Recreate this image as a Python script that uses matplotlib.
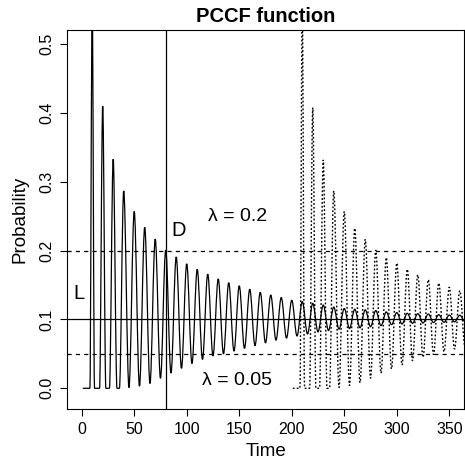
import matplotlib
matplotlib.use("Agg")
import matplotlib.pyplot as plt
from matplotlib.path import Path
from matplotlib.patches import PathPatch

plt.rcParams['font.family'] = ['Liberation Sans', 'DejaVu Sans']
plt.rcParams['lines.scale_dashes'] = False

# ---- data ----
# solid curve (process started at time 0): vertices (time, probability)
solid_t = [1, 7.8, 10, 12.2, 17, 20, 23, 26.4, 30, 33.6, 35.9, 40, 45, 50, 55, 60, 65, 70, 75,
           80, 85, 90, 95, 100, 105, 110, 115, 120, 125, 130, 135, 140, 145, 150, 155, 160,
           165, 170, 175, 180, 185, 190, 195, 200, 205, 210, 215, 220, 225, 230, 235, 240,
           245, 250, 255, 260, 265, 270, 275, 280, 285, 290, 295, 300, 305, 310, 315, 320,
           325, 330, 335, 340, 345, 350, 355, 360, 365, 370]
solid_p = [0.0, 0.0, 0.56, 0.0, 0.0, 0.41, 0.0, 0.0, 0.333, 0.0, 0.0, 0.287, 0.001, 0.257,
           0.003, 0.234, 0.007, 0.217, 0.0145, 0.201, 0.022, 0.191, 0.029, 0.181, 0.036,
           0.173, 0.042, 0.166, 0.047, 0.159, 0.050, 0.1535, 0.054, 0.149, 0.058, 0.144,
           0.062, 0.1395, 0.066, 0.1356, 0.070, 0.132, 0.073, 0.128, 0.076, 0.126, 0.079,
           0.1235, 0.082, 0.121, 0.084, 0.118, 0.086, 0.116, 0.087, 0.115, 0.088, 0.114,
           0.0895, 0.113, 0.091, 0.111, 0.0925, 0.110, 0.0935, 0.109, 0.0945, 0.1085, 0.095,
           0.108, 0.0955, 0.107, 0.096, 0.1065, 0.0965, 0.1062, 0.097, 0.106]

# dotted curve (process restarted at time 200)
dotted_t = [201, 207.8, 210, 212.2, 217, 220, 223, 226.4, 230, 233.6, 235.9, 240, 245, 250,
            255, 260, 265, 270, 275, 280, 285, 290, 295, 300, 305, 310, 315, 320, 325, 330,
            335, 340, 345, 350, 355, 360, 365, 370]
dotted_p = [0.0, 0.0, 0.56, 0.0, 0.0, 0.408, 0.0, 0.0, 0.332, 0.0, 0.0, 0.287, 0.001, 0.257,
            0.004, 0.2325, 0.008, 0.2166, 0.0145, 0.201, 0.022, 0.190, 0.028, 0.182, 0.034,
            0.173, 0.040, 0.165, 0.045, 0.158, 0.049, 0.153, 0.053, 0.147, 0.057, 0.142,
            0.060, 0.138]

mean_level = 0.1
lambda_levels = [0.2, 0.05]
lambda_labels = ["\u03bb = 0.2", "\u03bb = 0.05"]
d_time = 80

x_ticks = [0, 50, 100, 150, 200, 250, 300, 350]
y_ticks = [0.0, 0.1, 0.2, 0.3, 0.4, 0.5]


def smooth_path(ts, ps, frac=0.36):
    verts = [(ts[0], ps[0])]
    codes = [Path.MOVETO]
    for i in range(1, len(ts)):
        dt = ts[i] - ts[i - 1]
        verts += [(ts[i - 1] + frac * dt, ps[i - 1]), (ts[i] - frac * dt, ps[i]), (ts[i], ps[i])]
        codes += [Path.CURVE4] * 3
    return Path(verts, codes)


fig = plt.figure(figsize=(4.65, 4.59), dpi=100)
ax = fig.add_axes([67 / 465, 50 / 459, (464 - 67) / 465, (409 - 30) / 459])

ax.add_patch(PathPatch(smooth_path(solid_t, solid_p), fill=False, edgecolor='black', lw=0.9))
ax.add_patch(PathPatch(smooth_path(dotted_t, dotted_p), fill=False, edgecolor='black', lw=1.0,
                       linestyle=(0, (1.3, 1.5))))

ax.axhline(mean_level, color='black', lw=0.9)
for lv in lambda_levels:
    ax.axhline(lv, color='black', lw=0.9, linestyle=(0, (3, 3)))
ax.axvline(d_time, color='black', lw=0.9)

ax.text(-3, 0.138, "L", fontsize=14.5, ha='center', va='center')
ax.text(92.5, 0.229, "D", fontsize=14.5, ha='center', va='center')
ax.text(148, 0.25, lambda_labels[0], fontsize=14, ha='center', va='center')
ax.text(148, 0.012, lambda_labels[1], fontsize=14, ha='center', va='center')

ax.set_xlim(-14, 364)
ax.set_ylim(-0.0301, 0.5208)
ax.set_xticks(x_ticks)
ax.set_yticks(y_ticks)
ax.set_xticklabels([str(v) for v in x_ticks])
ax.set_yticklabels([f"{v:.1f}" for v in y_ticks], rotation=90, va='center')
ax.tick_params(direction='out', length=5, width=0.8, labelsize=11.5, pad=4)
for s in ax.spines.values():
    s.set_linewidth(0.8)

ax.set_title("PCCF function", fontsize=14.5, fontweight='bold', pad=6)
ax.set_xlabel("Time", fontsize=13.5, labelpad=5)
ax.set_ylabel("Probability", fontsize=13.5, labelpad=8)

fig.savefig("out.png", dpi=100)
